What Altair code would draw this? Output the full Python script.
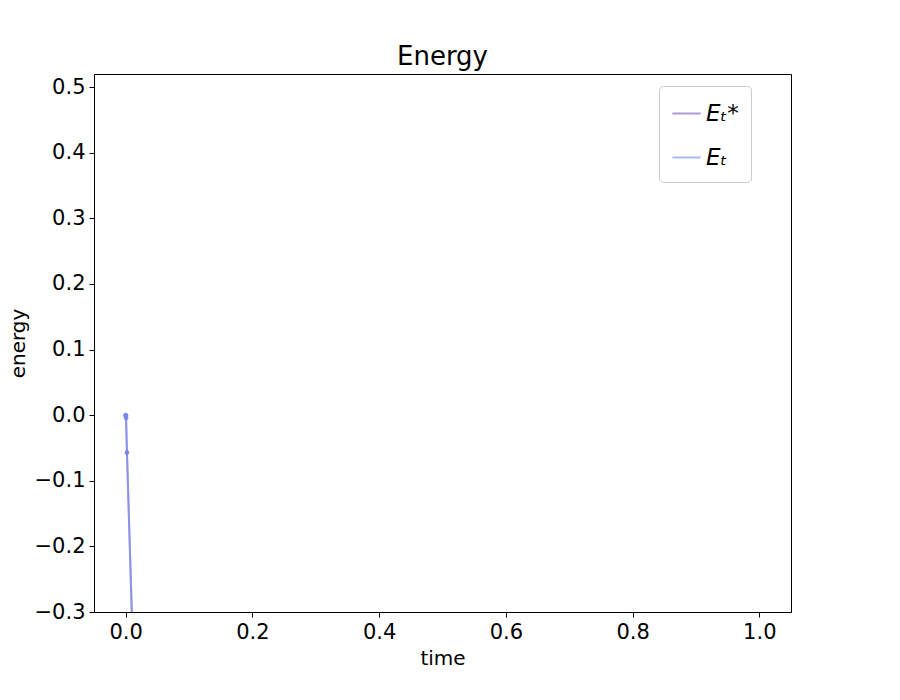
import altair as alt
import pandas as pd

time = [0.0, 0.0003, 0.0006, 0.002, 0.02]
e_star = [0.0, -0.001, -0.004, -0.057, -0.63]
e_t = [0.0, -0.001, -0.004, -0.057, -0.63]

rows = []
for name, vals in [("Eₜ*", e_star), ("Eₜ", e_t)]:
    for t, v in zip(time, vals):
        rows.append({"time": t, "energy": v, "series": name})
df = pd.DataFrame(rows)

color = alt.Color("series:N", scale=alt.Scale(domain=["Eₜ*", "Eₜ"], range=["#7f55c0", "#6f8ff0"]),
                  legend=alt.Legend(title=None, orient="none", legendX=565, legendY=12, labelFontSize=23,
                                    labelFontStyle="italic", symbolType="stroke", symbolSize=800,
                                    symbolStrokeWidth=2, rowPadding=16, padding=12,
                                    strokeColor="#cccccc", fillColor="white", cornerRadius=4))
x = alt.X("time:Q", scale=alt.Scale(domain=[-0.05, 1.05], nice=False),
          axis=alt.Axis(values=[0, 0.2, 0.4, 0.6, 0.8, 1.0], format=".1f", title="time", grid=False))
y = alt.Y("energy:Q", scale=alt.Scale(domain=[-0.3, 0.52], nice=False),
          axis=alt.Axis(values=[-0.3, -0.2, -0.1, 0, 0.1, 0.2, 0.3, 0.4, 0.5], format=".1f", title="energy", grid=False))

base = alt.Chart(df).encode(x=x, y=y, color=color)
lines = base.mark_line(clip=True, strokeWidth=2, opacity=0.6)
pts = base.mark_circle(clip=True, size=22, opacity=0.6)

chart = (lines + pts).properties(
    width=697, height=538,
    padding={"left": 0, "top": 36, "right": 10, "bottom": 5},
    title=alt.TitleParams("Energy", fontSize=26, fontWeight="normal", font="DejaVu Sans", offset=4),
).configure_axis(
    labelFontSize=21, titleFontSize=20, labelFont="DejaVu Sans", titleFont="DejaVu Sans",
    labelColor="black", titleColor="black", domainColor="black", tickColor="black",
    titleFontWeight="normal", labelPadding=4, tickSize=5, titlePadding=6,
).configure_legend(labelFont="DejaVu Sans").configure_view(stroke="black")

chart.save("out.html", embed_options={"renderer": "svg", "actions": False})
